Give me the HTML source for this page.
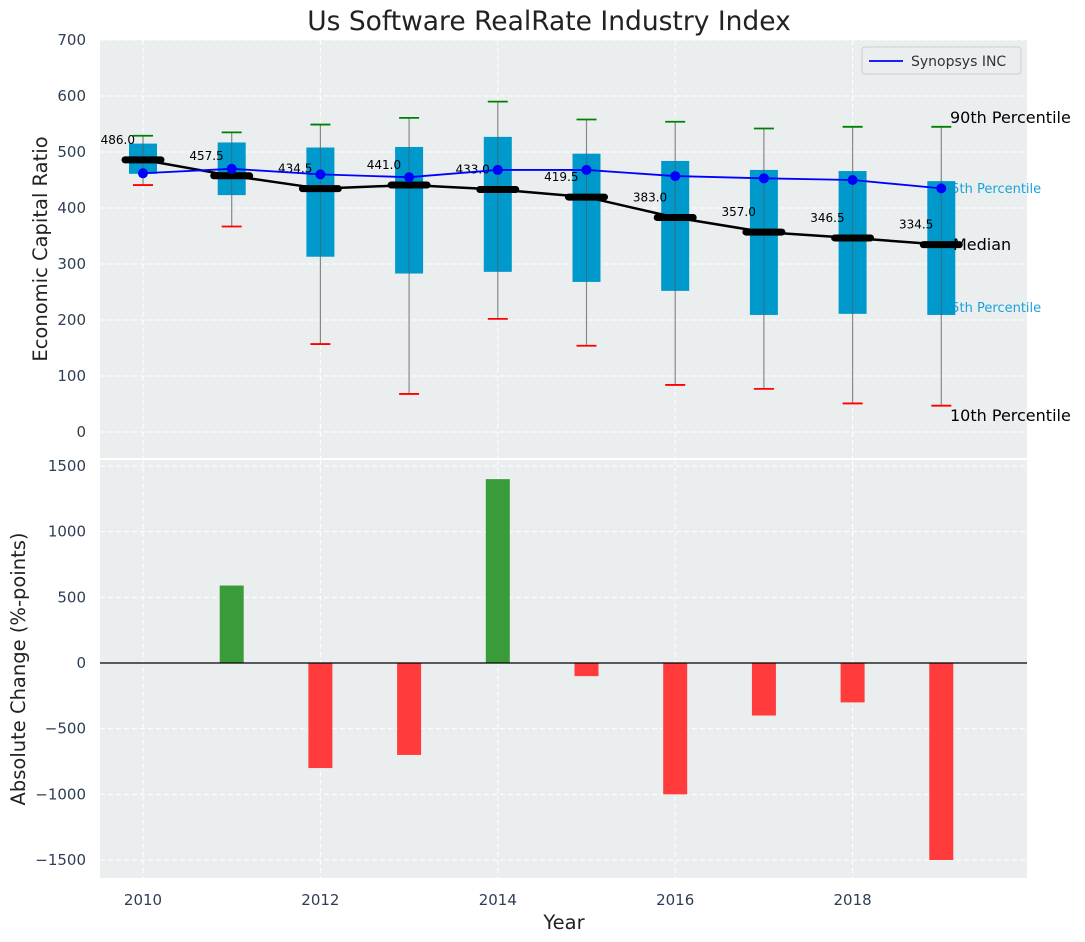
<!DOCTYPE html>
<html><head><meta charset="utf-8"><style>
body{margin:0;background:#fff;}
svg{display:block;font-family:"DejaVu Sans","Liberation Sans",sans-serif;}
</style></head><body>
<svg id="chart" width="1085" height="942" xmlns="http://www.w3.org/2000/svg"></svg>
<script>
const years=[2010,2011,2012,2013,2014,2015,2016,2017,2018,2019];
const q75=[515,517,508,509,527,497,484,468,466,448];
const q25=[461,423,313,283,286,268,252,209,211,209];
const p90=[529,535,549,561,590,558,554,542,545,545];
const p10=[441,367,157,68,202,154,84,77,51,47];
const medians=[486.0,457.5,434.5,441.0,433.0,419.5,383.0,357.0,346.5,334.5];
const synopsys=[462,470,460,455,468,468,457,453,450,435];
const changes=[0,590,-800,-700,1400,-100,-1000,-400,-300,-1500];
const topTicks=[0,100,200,300,400,500,600,700];
const botTicks=[-1500,-1000,-500,0,500,1000,1500];
const xTicks=[2010,2012,2014,2016,2018];

const NS="http://www.w3.org/2000/svg";
const svg=document.getElementById('chart');
function mk(tag,attrs,parent,text){const e=document.createElementNS(NS,tag);for(const k in attrs)e.setAttribute(k,attrs[k]);if(text!==undefined)e.textContent=text;(parent||svg).appendChild(e);return e;}
const L=100,R=1027,T1=40,B1=458,T2=460,B2=878;
const X=v=>143+(v-2010)*88.7;
const Y1=v=>432-v*0.56;
const Y2=v=>663-v*(197/1500);

let e;
e=mk('rect',{x:L,y:T1,width:R-L,height:B1-T1,fill:'#eaeeef'});

e=mk('rect',{x:L,y:T2,width:R-L,height:B2-T2,fill:'#eaeeef'});


topTicks.forEach(t=>{mk('line',{x1:L,x2:R,y1:Y1(t),y2:Y1(t),stroke:'#fff','stroke-dasharray':'5,3','stroke-width':1});
 e=mk('text',{x:86,y:Y1(t)+5,'text-anchor':'end','font-size':15,fill:'#2f3e55'},null,t);
 });
botTicks.forEach(t=>{mk('line',{x1:L,x2:R,y1:Y2(t),y2:Y2(t),stroke:'#fff','stroke-dasharray':'5,3','stroke-width':1});
 e=mk('text',{x:86,y:Y2(t)+5,'text-anchor':'end','font-size':15,fill:'#2f3e55'},null,t<0?'\u2212'+Math.abs(t):t);
 });
xTicks.forEach(t=>{mk('line',{x1:X(t),x2:X(t),y1:T1,y2:B1,stroke:'#fff','stroke-dasharray':'5,3'});
 mk('line',{x1:X(t),x2:X(t),y1:T2,y2:B2,stroke:'#fff','stroke-dasharray':'5,3'});
 e=mk('text',{x:X(t),y:905,'text-anchor':'middle','font-size':15,fill:'#2f3e55'},null,t);
 });

e=mk('text',{x:943,y:193,'font-size':13,fill:'#1aa3d6'},null,'75th Percentile');

e=mk('text',{x:943,y:312,'font-size':13,fill:'#1aa3d6'},null,'25th Percentile');


years.forEach((y,i)=>{
 const x=X(y);
 e=mk('line',{x1:x,x2:x,y1:Y1(p90[i]),y2:Y1(p10[i]),stroke:'#888','stroke-width':1.2});
 
 e=mk('rect',{x:x-14,y:Y1(q75[i]),width:28,height:Y1(q25[i])-Y1(q75[i]),fill:'#0099cc'});
 
 mk('line',{x1:x,x2:x,y1:Y1(q75[i]),y2:Y1(q25[i]),stroke:'#555','stroke-width':1,opacity:0.6});
 e=mk('line',{x1:x-10,x2:x+10,y1:Y1(p90[i]),y2:Y1(p90[i]),stroke:'green','stroke-width':1.8});
 
 e=mk('line',{x1:x-10,x2:x+10,y1:Y1(p10[i]),y2:Y1(p10[i]),stroke:'red','stroke-width':1.8});
 
});
e=mk('polyline',{points:years.map((y,i)=>X(y)+','+Y1(medians[i])).join(' '),fill:'none',stroke:'#000','stroke-width':2.5});

years.forEach((y,i)=>{
 e=mk('line',{x1:X(y)-18,x2:X(y)+18,y1:Y1(medians[i]),y2:Y1(medians[i]),stroke:'#000','stroke-width':7,'stroke-linecap':'round'});
 
 e=mk('text',{x:X(y)-8,y:Y1(medians[i])-16,'text-anchor':'end','font-size':12,fill:'#000'},null,medians[i].toFixed(1));
 
});
e=mk('polyline',{points:years.map((y,i)=>X(y)+','+Y1(synopsys[i])).join(' '),fill:'none',stroke:'#0000ff','stroke-width':1.8});

years.forEach((y,i)=>{e=mk('circle',{cx:X(y),cy:Y1(synopsys[i]),r:5,fill:'#0000ff'});
 });

e=mk('text',{x:950,y:123,'font-size':16,fill:'#000'},null,'90th Percentile');

e=mk('text',{x:953,y:250,'font-size':16,fill:'#000'},null,'Median');

e=mk('text',{x:950,y:421,'font-size':16,fill:'#000'},null,'10th Percentile');


const lg=mk('g',{});

mk('rect',{x:862,y:47,width:159,height:27,rx:3,fill:'#eaeeef',stroke:'#ccc'},lg);
mk('line',{x1:869,x2:903,y1:61,y2:61,stroke:'#0000ff','stroke-width':1.8},lg);
e=mk('text',{x:911,y:66,'font-size':14,fill:'#333'},lg,'Synopsys INC');


years.forEach((y,i)=>{const v=changes[i];if(v===0)return;
 const y0=Y2(Math.max(v,0)),h=Math.abs(Y2(v)-Y2(0));
 e=mk('rect',{x:X(y)-12,y:y0,width:24,height:h,fill:v>0?'#3a9b3a':'#ff3b3b'});
 });
mk('line',{x1:L,x2:R,y1:Y2(0),y2:Y2(0),stroke:'#000','stroke-width':1.2});

e=mk('text',{x:549,y:30,'text-anchor':'middle','font-size':26.5,fill:'#222'},null,'Us Software RealRate Industry Index');

e=mk('text',{x:0,y:0,'text-anchor':'middle','font-size':19.5,fill:'#222',transform:'translate(47,249) rotate(-90)'},null,'Economic Capital Ratio');

e=mk('text',{x:0,y:0,'text-anchor':'middle','font-size':19.5,fill:'#222',transform:'translate(25,669) rotate(-90)'},null,'Absolute Change (%-points)');

e=mk('text',{x:564,y:929,'text-anchor':'middle','font-size':19.5,fill:'#222'},null,'Year');

</script>
</body></html>
